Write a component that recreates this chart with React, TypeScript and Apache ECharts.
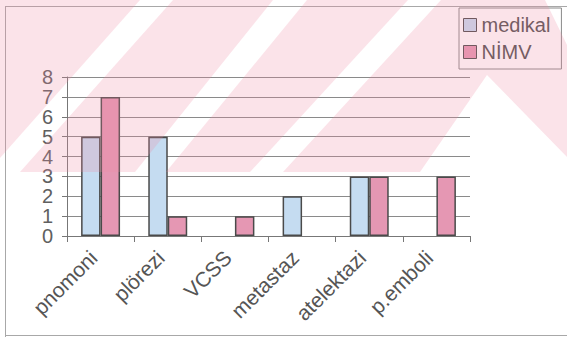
import React, { useEffect, useRef } from "react";
import * as echarts from "echarts";

const categories = ["pnomoni", "plörezi", "VCSS", "metastaz", "atelektazi", "p.emboli"];
const medikal = [5, 5, 0, 2, 3, 0];
const nimv = [7, 1, 1, 0, 3, 3];
const seriesNames = ["medikal", "NİMV"];
const yTicks = [0, 1, 2, 3, 4, 5, 6, 7, 8];

const FONT = 'Arial, "Liberation Sans", sans-serif';
const BLUE = "#c5dcf1";
const PINK = "#e597b3";
const EDGE = "#4a4a4a";

const toBars = (arr: number[]) => arr.map((v) => (v === 0 ? null : v));

export default function App() {
  const ref = useRef<HTMLDivElement>(null);
  useEffect(() => {
    if (!ref.current) return;
    const chart = echarts.init(ref.current, null, { renderer: "svg" });
    const overlay = (pts: number[][]) => ({
      type: "polygon",
      silent: true,
      z: 100,
      shape: { points: pts },
      style: { fill: "rgb(238,140,165)", opacity: 0.24 },
    });
    chart.setOption({
      animation: false,
      backgroundColor: "#ffffff",
      textStyle: { fontFamily: FONT },
      grid: { left: 67, right: 97, top: 77, bottom: 101, containLabel: false, outerBoundsMode: "none" },
      legend: {
        orient: "vertical",
        left: 459,
        top: 8,
        padding: [7, 11, 7, 4],
        itemWidth: 13,
        itemHeight: 13,
        itemGap: 7,
        borderColor: "#8a8a8a",
        borderWidth: 1,
        icon: "rect",
        textStyle: { fontSize: 20, color: "#505050", fontFamily: FONT },
        data: [
          { name: seriesNames[0], itemStyle: { color: BLUE, borderColor: EDGE, borderWidth: 1 } },
          { name: seriesNames[1], itemStyle: { color: PINK, borderColor: EDGE, borderWidth: 1 } },
        ],
      },
      xAxis: {
        type: "category",
        data: categories,
        axisLine: { show: true, lineStyle: { color: "#777", width: 1 } },
        axisTick: { show: true, alignWithLabel: false, length: 6, lineStyle: { color: "#777" } },
        axisLabel: {
          rotate: 45,
          fontSize: 21,
          color: "#555",
          margin: 11,
          padding: [0, 10, 0, 0],
          interval: 0,
          fontFamily: FONT,
        },
        splitLine: { show: false },
      },
      yAxis: {
        type: "value",
        min: yTicks[0],
        max: yTicks[yTicks.length - 1],
        interval: 1,
        axisLine: { show: true, lineStyle: { color: "#777", width: 1 } },
        axisTick: { show: true, length: 5, lineStyle: { color: "#777" } },
        axisLabel: {
          fontSize: 20,
          lineHeight: 16,
          color: "#606060",
          margin: 14,
          showMinLabel: true,
          showMaxLabel: true,
          hideOverlap: false,
          fontFamily: FONT,
        },
        splitLine: { show: true, lineStyle: { color: "#8a8a8a", width: 1 } },
      },
      series: [
        {
          name: seriesNames[0],
          type: "bar",
          data: toBars(medikal),
          barGap: "0%",
          barCategoryGap: "42%",
          itemStyle: { color: BLUE, borderColor: EDGE, borderWidth: 1.5 },
        },
        {
          name: seriesNames[1],
          type: "bar",
          data: toBars(nimv),
          barGap: "0%",
          barCategoryGap: "42%",
          itemStyle: { color: PINK, borderColor: EDGE, borderWidth: 1.5 },
        },
      ],
      graphic: [
        { type: "line", silent: true, shape: { x1: 5, y1: 6.5, x2: 567, y2: 6.5 }, style: { stroke: "#a8a8a8", lineWidth: 1 } },
        { type: "line", silent: true, shape: { x1: 5.5, y1: 6, x2: 5.5, y2: 337 }, style: { stroke: "#a8a8a8", lineWidth: 1 } },
        { type: "line", silent: true, shape: { x1: 5, y1: 335.5, x2: 567, y2: 335.5 }, style: { stroke: "#a8a8a8", lineWidth: 1 } },
        overlay([[0, 0], [140, 0], [0, 158]]),
        overlay([[173, 0], [273, 0], [135, 172], [20, 172]]),
        overlay([[307, 0], [408, 0], [250, 172], [166, 172]]),
        overlay([[441, 0], [545, 0], [567, 45], [567, 157], [487, 75], [420, 172], [283, 172]]),
      ],
    });
    return () => chart.dispose();
  }, []);
  return (
    <div
      ref={ref}
      style={{ position: "fixed", left: 0, top: 0, width: 567, height: 337, background: "#fff" }}
    />
  );
}
